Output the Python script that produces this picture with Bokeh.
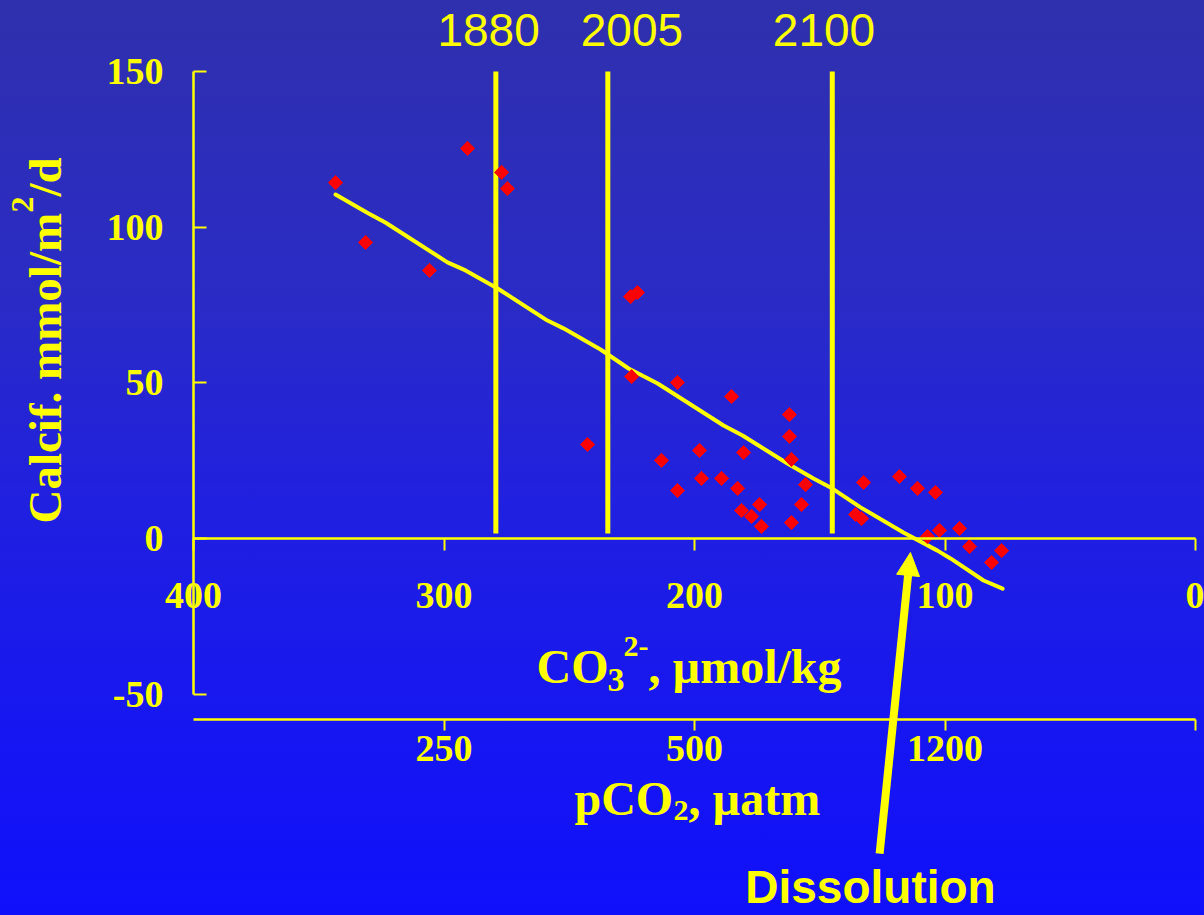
import math
from bokeh.plotting import figure
from bokeh.models import Range1d, LinearAxis, FixedTicker, Label, Arrow, NormalHead
from bokeh.embed import file_html
from bokeh.resources import INLINE

YELLOW = "#ffff00"
RED = "#ff0000"
SERIF = "Liberation Serif"
SANS = "Liberation Sans"

# ---- data ----
co3 = [343.3, 331.3, 305.8, 290.6, 277.0, 274.7, 225.5, 222.8, 225.1, 206.8,
       242.7, 213.2, 206.8, 198.0, 197.2, 189.2, 185.2, 182.8, 180.4, 181.2,
       177.2, 174.0, 173.3, 162.1, 162.1, 161.3, 161.3, 157.3, 155.7, 135.7,
       133.3, 132.5, 118.2, 111.0, 103.8, 107.0, 102.2, 94.2, 90.2, 81.4, 77.4]
calcif = [114.3, 95.1, 86.1, 125.3, 117.6, 112.4, 77.7, 79.0, 52.0, 50.1,
          30.2, 25.1, 15.4, 28.3, 19.3, 19.3, 45.6, 16.1, 27.6, 9.0,
          7.1, 10.9, 3.9, 39.8, 32.8, 25.4, 5.1, 10.9, 17.3, 7.7,
          6.4, 18.0, 19.9, 16.1, 14.8, 0.6, 2.6, 3.2, -2.6, -7.7, -3.9]

trend_co3 = [343.3, 330.1, 323.4, 298.6, 291.4, 278.6, 258.7, 252.3, 237.5, 226.3,
             214.7, 188.4, 180.8, 162.9, 152.5, 145.7, 133.7, 116.6, 103.0, 97.8,
             84.6, 77.0]
trend_calcif = [110.5, 104.4, 101.5, 88.7, 86.1, 80.3, 70.0, 67.5, 60.7, 54.6,
                49.8, 36.3, 33.1, 24.1, 19.3, 16.4, 10.0, 1.9, -3.9, -6.4,
                -13.5, -16.1]

year_names = ["1880", "2005", "2100"]
year_co3 = [279.3, 234.6, 145.0]
year_label_co3 = [282.2, 225.0, 148.3]
year_line_bottom = [1.6, 1.6, 1.6]
year_line_top = [150, 150, 150]

co3_ticks = [400, 300, 200, 100, 0]
calcif_ticks = [-50, 0, 50, 100, 150]
calcif_tick_labels = ["-50", "0", "50", "100", "150"]
pco2_tick_pos = [300, 200, 100, 0]
pco2_tick_labels = ["250", "500", "1200", ""]

arrow_tail = (126.1, -101.2)
arrow_tip = (113.8, -4.5)

# ---- layout helpers (pixel -> data, for placement only) ----
W, H = 1204, 915
AXL, AXR, TOP_PX, ZERO_PX, PCO2_PX = 193, 1195, 71, 538, 719
K_BASE = 0.4  # empirical baseline correction of the label renderer
def dx(px):
    return 400 - (px - AXL) * 400.0 / (AXR - AXL)
def dy(py):
    return (ZERO_PX - py) * 150.0 / (ZERO_PX - TOP_PX)

p = figure(width=W, height=H, output_backend="svg", toolbar_location=None,
           x_range=Range1d(dx(0), dx(W)), y_range=Range1d(dy(H), dy(0)),
           x_axis_type=None, y_axis_type=None,
           min_border=0, min_border_left=0, min_border_right=0,
           min_border_top=0, min_border_bottom=0,
           background_fill_alpha=0, border_fill_alpha=0,
           outline_line_color=None)
p.styles = {"background": "linear-gradient(180deg, #2f30ad 0%, #2a2bc6 33%, #2020e0 55%, #1616f2 80%, #1010fb 100%)"}
p.grid.visible = False

def style_axis(ax):
    ax.axis_line_color = YELLOW
    ax.axis_line_width = 2.5
    ax.major_tick_line_color = YELLOW
    ax.major_tick_line_width = 2
    ax.minor_tick_line_color = None
    ax.major_label_text_color = YELLOW
    ax.major_label_text_font = SERIF
    ax.major_label_text_font_style = "bold"
    ax.major_label_text_font_size = "38px"

# pCO2 axis
pax = LinearAxis(fixed_location=dy(PCO2_PX), ticker=FixedTicker(ticks=pco2_tick_pos),
                 bounds=(400, 0))
style_axis(pax)
pax.major_label_overrides = {k: v for k, v in zip(pco2_tick_pos, pco2_tick_labels)}
pax.major_tick_out = 11
pax.major_tick_in = 0
pax.major_label_standoff = 5
p.add_layout(pax, "below")

# CO3 axis at y = 0
cax = LinearAxis(fixed_location=0, ticker=FixedTicker(ticks=co3_ticks), bounds=(400, 0))
style_axis(cax)
cax.major_tick_out = 12
cax.major_tick_in = 0
cax.major_label_standoff = 32
p.add_layout(cax, "below")

# calcification axis
yax = LinearAxis(fixed_location=400, ticker=FixedTicker(ticks=calcif_ticks),
                 bounds=(-50, 150))
style_axis(yax)
yax.major_label_overrides = {k: v for k, v in zip(calcif_ticks, calcif_tick_labels)}
yax.major_tick_in = 13
yax.major_tick_out = 0
yax.major_label_standoff = 30
p.add_layout(yax, "left")

# year lines
p.segment(x0=year_co3, y0=year_line_bottom, x1=year_co3, y1=year_line_top,
          line_color=YELLOW, line_width=5)
for name, xv in zip(year_names, year_label_co3):
    p.add_layout(Label(x=xv, y=dy(48 - K_BASE * 46), text=name, text_align="center",
                       text_baseline="alphabetic", text_color=YELLOW,
                       text_font=SANS, text_font_size="46px"))

# trend line and points
p.line(trend_co3, trend_calcif, line_color=YELLOW, line_width=4,
       line_cap="round", line_join="round")
p.scatter(co3, calcif, marker="square", size=10, angle=math.pi / 4,
          fill_color=RED, line_color=RED)

# arrow
p.add_layout(Arrow(end=NormalHead(size=23, fill_color=YELLOW, line_color=YELLOW),
                   x_start=arrow_tail[0], y_start=arrow_tail[1],
                   x_end=arrow_tip[0], y_end=arrow_tip[1],
                   line_color=YELLOW, line_width=8))
p.add_layout(Label(x=dx(870), y=dy(905 - K_BASE * 46), text="Dissolution",
                   text_align="center", text_baseline="alphabetic",
                   text_color=YELLOW, text_font=SANS,
                   text_font_style="bold", text_font_size="46px"))

def piece(txt, px, py, size, angle=0.0):
    if angle == 0.0:
        py = py - K_BASE * size
    else:
        px = px - K_BASE * size
    p.add_layout(Label(x=dx(px), y=dy(py), text=txt, text_align="left",
                       text_baseline="alphabetic", text_color=YELLOW,
                       text_font=SERIF, text_font_style="bold",
                       text_font_size=f"{size}px", angle=angle))

# CO3 title
piece("CO", 536, 685, 48)
piece("3", 607, 693, 34)
piece("2-", 623, 658, 30)
piece(", \u00b5mol/kg", 648, 685, 48)

# pCO2 title
piece("pCO", 574, 817, 48)
piece("2", 673, 822, 30)
piece(", \u00b5atm", 688, 817, 48)

# y title (rotated)
piece("Calcif. mmol/m", 63, 523, 47, math.pi / 2)
piece("2", 35, 212, 32, math.pi / 2)
piece("/d", 63, 196, 47, math.pi / 2)

open("out.html", "w").write(file_html(p, INLINE))
